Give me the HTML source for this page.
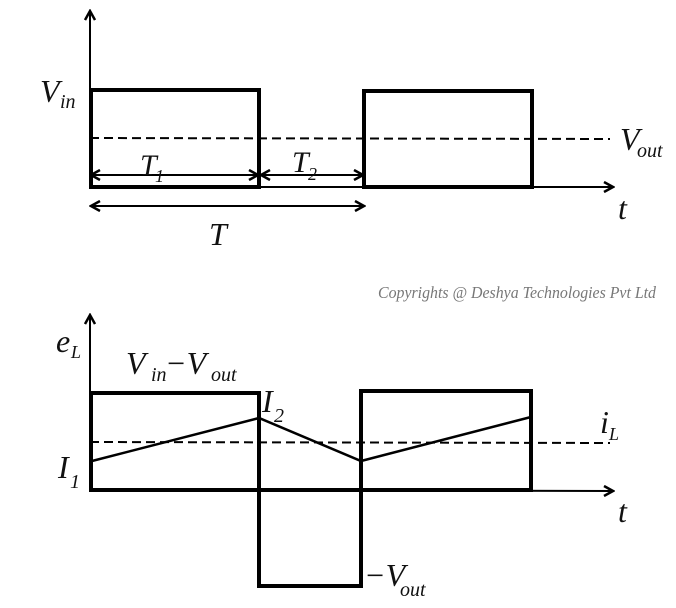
<!DOCTYPE html>
<html><head><meta charset="utf-8"><style>
html,body{margin:0;padding:0;background:#fff;}
svg{display:block;}
text{font-family:"Liberation Serif",serif;font-style:italic;fill:#111;}
</style></head><body>
<svg width="676" height="608" viewBox="0 0 676 608" xmlns="http://www.w3.org/2000/svg">
<defs>
<marker id="a" markerWidth="12" markerHeight="12" refX="10" refY="6" orient="auto-start-reverse" markerUnits="userSpaceOnUse">
<path d="M1,1 L10,6 L1,11" fill="none" stroke="#000" stroke-width="2.5"/>
</marker>
</defs>
<g stroke="#000" fill="none">
<line x1="90" y1="187" x2="90" y2="11" stroke-width="2" marker-end="url(#a)"/>
<line x1="90" y1="187" x2="613" y2="187" stroke-width="2" marker-end="url(#a)"/>
<line x1="90" y1="138" x2="610" y2="139" stroke-width="2" stroke-dasharray="9,5"/>
<rect x="91" y="90" width="168" height="97" stroke-width="4"/>
<rect x="364" y="91" width="168" height="96" stroke-width="4"/>
<line x1="91" y1="175" x2="258" y2="175" stroke-width="2" marker-start="url(#a)" marker-end="url(#a)"/>
<line x1="261" y1="175" x2="363" y2="175" stroke-width="2" marker-start="url(#a)" marker-end="url(#a)"/>
<line x1="91" y1="206" x2="364" y2="206" stroke-width="2" marker-start="url(#a)" marker-end="url(#a)"/>
<line x1="90" y1="490" x2="90" y2="315" stroke-width="2" marker-end="url(#a)"/>
<line x1="90" y1="490" x2="613" y2="491" stroke-width="2" marker-end="url(#a)"/>
<line x1="90" y1="442" x2="610" y2="443" stroke-width="2" stroke-dasharray="9,5"/>
<path d="M91,490 L91,393 L259,393 L259,586 L361,586 L361,391 L531,391 L531,490 Z" stroke-width="4" stroke-linejoin="miter"/>
<line x1="91" y1="490" x2="531" y2="490" stroke-width="4"/>
<polyline points="92,461 259,418 361,461 531,417" stroke-width="2.5"/>
</g>
<text x="40" y="102" font-size="32">V</text><text x="60" y="108" font-size="20">in</text>
<text x="620" y="150" font-size="32">V</text><text x="637" y="157" font-size="20">out</text>
<text x="140" y="175" font-size="30">T</text><text x="155" y="182" font-size="18">1</text>
<text x="292" y="172" font-size="30">T</text><text x="308" y="180" font-size="18">2</text>
<text x="209" y="245" font-size="32">T</text>
<text x="618" y="219" font-size="32">t</text>
<text x="378" y="298" font-size="16.5" textLength="278" lengthAdjust="spacingAndGlyphs" style="fill:#777">Copyrights @ Deshya Technologies Pvt Ltd</text>
<text x="56" y="352" font-size="32">e</text><text x="71" y="358" font-size="18">L</text>
<text x="126" y="374" font-size="32">V</text><text x="151" y="381" font-size="20">in</text>
<text x="165" y="374" font-size="32">−V</text><text x="211" y="381" font-size="20">out</text>
<text x="262" y="412" font-size="32">I</text><text x="274" y="422" font-size="20">2</text>
<text x="600" y="433" font-size="32">i</text><text x="609" y="440" font-size="18">L</text>
<text x="58" y="478" font-size="32">I</text><text x="70" y="488" font-size="20">1</text>
<text x="618" y="522" font-size="32">t</text>
<text x="364" y="586" font-size="32">−V</text><text x="400" y="596" font-size="20">out</text>
</svg>
</body></html>
